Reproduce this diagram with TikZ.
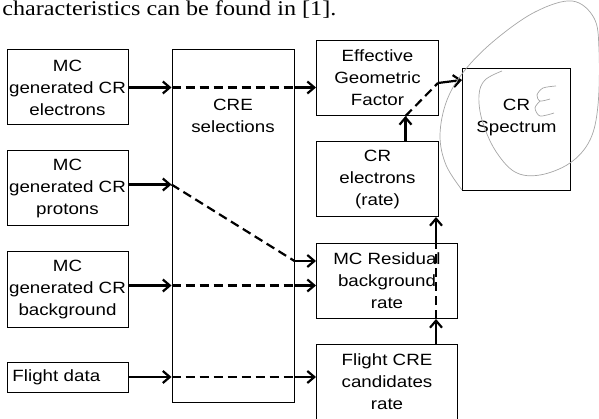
\documentclass[tikz,border=0pt]{standalone}
\usepackage{fontspec}
\setmainfont{Liberation Sans}[FakeStretch=1.15]
\newfontfamily\bodyserif{Liberation Serif}[FakeStretch=1.15]
\usetikzlibrary{positioning, arrows.meta}

\begin{document}
\begin{tikzpicture}[x=1pt, y=1pt, node distance=25pt, thick]
                \tikzstyle{box} = [draw, line width=1pt, minimum width=121pt, minimum height=75pt, align=center, inner sep=2pt, font=\fontsize{16.3}{22}\selectfont]
                \tikzstyle{flow} = [line width=2.2pt, -{Straight Barb[length=7pt, width=12pt]}]
                \tikzstyle{pass} = [line width=2.2pt, dash pattern=on 9pt off 5pt]
                \tikzstyle{scribble} = [gray!70, line width=0.7pt]

                \useasboundingbox (0,0) rectangle (599,-419);

                % Line of running text above the chart
                \node[anchor=base west, inner sep=0pt, font=\bodyserif\fontsize{21}{21}\selectfont] (intro) at (2,-16) {characteristics can be found in [1].};

                % Inputs (left column)
                \node[box] (ele) at (67.5,-87.5) {MC\\generated CR\\electrons};
                \node[box] (prot) [below=25pt of ele] {MC\\generated CR\\protons};
                \node[box] (bkg) [below=25pt of prot] {MC\\generated CR\\background};
                \node[box, minimum height=30pt, text width=110pt, align=left] (data) [below=34pt of bkg] {Flight data};

                % Selection stage
                \node[box, minimum width=122pt, minimum height=352pt, anchor=north west, xshift=43pt,
                      label={[anchor=north, yshift=-46pt, align=center, font=\fontsize{16.3}{22}\selectfont]north:CRE\\selections}] (sel) at (ele.north east) {};

                % Rates (right column)
                \node[box, minimum width=122pt, anchor=north west] (geo) at (316,-40) {Effective\\Geometric\\Factor};
                \node[box, minimum width=122pt] (elec) [below=25pt of geo] {CR\\electrons\\(rate)};
                \node[box, minimum width=141pt] (res) [below=26pt of elec.south west, anchor=north west] {MC Residual\\background\\rate};
                \node[box, minimum width=141pt] (cand) [below=25pt of res] {Flight CRE\\candidates\\rate};

                % Result
                \node[box, minimum width=108pt, minimum height=122pt, anchor=north west,
                      label={[yshift=12pt, align=center, font=\fontsize{16.3}{22}\selectfont]center:CR\\Spectrum}] (spec) at (462,-68) {};

                % Heights where the lines cross the selection box
                \coordinate (pin) at ([yshift=4pt]prot.east);
                \coordinate (bin) at ([yshift=4pt]bkg.east);
                \coordinate (rin) at ([yshift=-18pt]res.north west);
                \coordinate (up) at ([xshift=-22pt]res.north east);
                \coordinate (ein) at ([xshift=28pt]elec.north);
                \coordinate (bend) at ([xshift=-1pt, yshift=-43pt]geo.north east);

                \draw[flow] (ele.east) -- (ele -| sel.west);
                \draw[pass] (ele -| sel.west) -- (ele -| sel.east);
                \draw[flow] (ele -| sel.east) -- (ele -| geo.west);

                \draw[flow] (pin) -- (pin -| sel.west);
                \draw[pass] (pin -| sel.west) -- (rin -| sel.east);
                \draw[flow] (rin -| sel.east) -- (rin);

                \draw[flow] (bin) -- (bin -| sel.west);
                \draw[pass] (bin -| sel.west) -- (bin -| sel.east);
                \draw[flow] (bin -| sel.east) -- (bin -| res.west);

                \draw[flow] (data.east) -- (data -| sel.west);
                \draw[pass] (data -| sel.west) -- (data -| sel.east);
                \draw[flow] (data -| sel.east) -- (data -| cand.west);

                \draw[flow] (cand.north -| up) -- (res.south -| up);
                \draw[pass] (res.south -| up) -- (up);
                \draw[flow] (up) -- (up |- elec.south);

                \draw[flow] (ein) -- (ein |- geo.south);
                \draw[pass] (ein |- geo.south) -- (bend);
                \draw[flow] (bend) -- ([yshift=-12pt]spec.north west);

                % Pencil marks round the spectrum box
                \draw[scribble] plot[smooth, tension=0.6] coordinates {(462,-190) (446,-165) (440,-135) (447,-100) (465,-70) (495,-40) (535,-12) (572,-1) (594,-18) (599,-50) (598,-105) (590,-140) (570,-163) (540,-175) (515,-172) (495,-150) (482,-120) (479,-95) (485,-80) (502,-71)};
                \draw[scribble] plot[smooth] coordinates {(556,-86) (543,-88) (537,-95) (540,-101) (550,-99)};
                \draw[scribble] plot[smooth] coordinates {(540,-101) (535,-108) (540,-116) (554,-113)};
            \end{tikzpicture}
\end{document}
